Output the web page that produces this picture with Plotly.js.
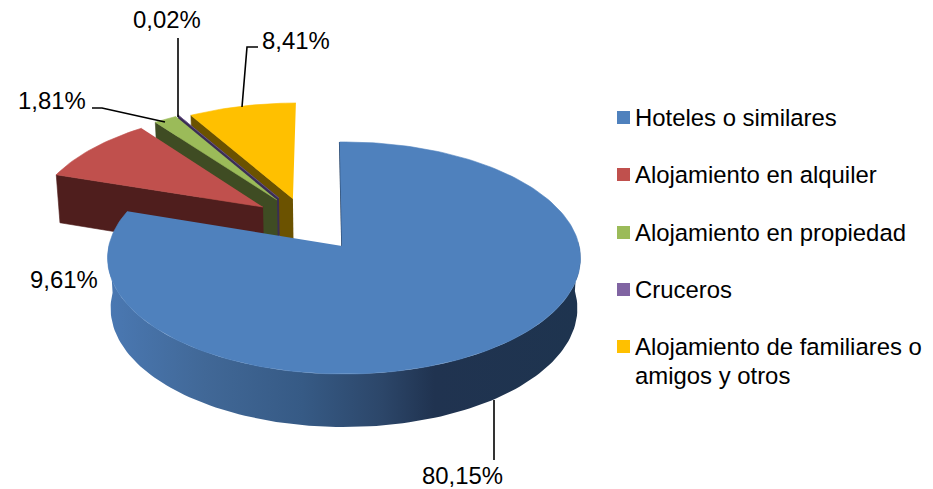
<!DOCTYPE html>
<html>
<head>
<meta charset="utf-8">
<script src="https://cdn.plot.ly/plotly-3.0.1.min.js"></script>
<style>html,body{margin:0;padding:0;background:#fff}#c{width:933px;height:489px}</style>
</head>
<body>
<div id="c"></div>
<script>
// Data
const categories = ['Hoteles o similares','Alojamiento en alquiler','Alojamiento en propiedad','Cruceros','Alojamiento de familiares o<br>amigos y otros'];
const values = [80.15, 9.61, 1.81, 0.02, 8.41];
const faceColors = ['#4f81bd','#c0504d','#9bbb59','#8064a2','#ffc000'];
const wallColors = ['#1f3450','#4f1e1d','#3f4c23','#3a2d55','#6b5200'];
// Slice explosion in the pie plane (units of radius)
const explodeU = [0.0085, -0.348, -0.288, -0.28, -0.218];
const explodeV = [0, 0.352, 0.418, 0.436, 0.43];
// Label layout
const labelX = [462, 64, 52, 167, 296];
const labelY = [475.5, 279, 100, 19, 40];
const leaderX = [[494,494], null, [92,102,165], [178,178], [258,247,242]];
const leaderY = [[400,460], null, [108,108,122], [38,117], [47,47,107]];
const legendKeyY = [117.5, 174.5, 232.5, 289.5, 346.5];
const LEGEND_LINE = 29;

// Pie projection (perspective view of a tilted disc with thickness)
const cx = 342, cy = 246, RX = 235.2, RY = 114.8, K = 0.1034, ROT = -0.4;
function project(u, v, low) {
  const w = 1 + K * v;
  return [cx + RX * (low ? 0.987 : 1) * u / w, cy - RY * v / w + (low ? 50 - 3 * v : 0)];
}
function rim(i, deg, low) {
  const a = (deg + ROT) * Math.PI / 180;
  return project(Math.sin(a) + explodeU[i], Math.cos(a) + explodeV[i], low);
}
function apex(i, low) { return i === 0 ? project(0, 0, low) : project(explodeU[i], explodeV[i], low); }
function poly(points) { return {x: points.map(p => p[0]), y: points.map(p => p[1])}; }
function arc(i, a0, a1, low) {
  const n = Math.max(2, Math.ceil(Math.abs(a1 - a0) / 1.5)), out = [];
  for (let j = 0; j <= n; j++) out.push(rim(i, a0 + (a1 - a0) * j / n, low));
  return out;
}
function area(points, color, extra) {
  return Object.assign({type: 'scatter', mode: 'lines', fill: 'toself', fillcolor: color,
    line: {width: 0.6, color: color}, hoverinfo: 'skip', showlegend: false}, poly(points), extra || {});
}

const total = values.reduce((s, v) => s + v, 0);
const starts = [];
values.reduce((s, v, i) => { starts[i] = s; return s + v / total * 360; }, 0);
const ends = values.map((v, i) => starts[i] + v / total * 360);
starts[0] = -0.7; // main slice edge leans slightly left of vertical

const traces = [];
// Painter order: back slices first, blue last
[4, 3, 2, 1].forEach(i => {
  traces.push(area([apex(i), rim(i, starts[i]), rim(i, starts[i], true), apex(i, true)], wallColors[i]));
  traces.push(area([apex(i)].concat(arc(i, starts[i], ends[i])), faceColors[i]));
});
// Main slice: thin inner edge, outer wall with gradient, then top face
traces.push({type: 'scatter', mode: 'lines', hoverinfo: 'skip', showlegend: false,
  line: {color: wallColors[0], width: 1.6}, ...poly([rim(0, starts[0]), apex(0)])});
const wallPts = arc(0, 88, 272).concat(arc(0, 272, 88, true));
traces.push(Object.assign({type: 'scatter', mode: 'lines', fill: 'toself', line: {width: 0}, hoverinfo: 'skip', showlegend: false,
  fillgradient: {type: 'horizontal', start: 110, stop: 580, colorscale: [
    [0, '#4a78b2'], [0.2, '#416897'], [0.41, '#365a85'], [0.58, '#2c4669'], [0.69, '#203350'], [1, '#1e344f']]}}, poly(wallPts)));
traces.push(area([apex(0)].concat(arc(0, starts[0], ends[0])), faceColors[0]));

// Leader lines
leaderX.forEach((xs, i) => {
  if (xs) traces.push({type: 'scatter', mode: 'lines', x: xs, y: leaderY[i], hoverinfo: 'skip', showlegend: false,
    line: {color: '#000', width: 1.6}});
});
// Legend keys
categories.forEach((c, i) => traces.push({type: 'scatter', mode: 'markers', x: [623.5], y: [legendKeyY[i]],
  hoverinfo: 'skip', showlegend: false, marker: {symbol: 'square', size: 13, color: faceColors[i], line: {width: 0}}}));

const FONT = {family: 'Liberation Sans, Arial, sans-serif', size: 23.9, color: '#000'};
const annotations = [];
values.forEach((v, i) => annotations.push({x: labelX[i], y: labelY[i], xref: 'x', yref: 'y', showarrow: false,
  text: v.toFixed(2).replace('.', ',') + '%', font: FONT, xanchor: 'center', yanchor: 'middle'}));
categories.forEach((c, i) => c.split('<br>').forEach((line, j) => annotations.push({
  x: 634, y: legendKeyY[i] + j * LEGEND_LINE, xref: 'x', yref: 'y', showarrow: false,
  text: line, font: FONT, xanchor: 'left', yanchor: 'middle', align: 'left', borderpad: 0})));

const hidden = {visible: false, fixedrange: true};
Plotly.newPlot('c', traces, {
  width: 933, height: 489, margin: {l: 0, r: 0, t: 0, b: 0},
  paper_bgcolor: '#fff', plot_bgcolor: '#fff', showlegend: false, hovermode: false,
  xaxis: Object.assign({range: [0, 933]}, hidden),
  yaxis: Object.assign({range: [489, 0]}, hidden),
  annotations: annotations
}, {displayModeBar: false, staticPlot: true});
</script>
</body>
</html>
